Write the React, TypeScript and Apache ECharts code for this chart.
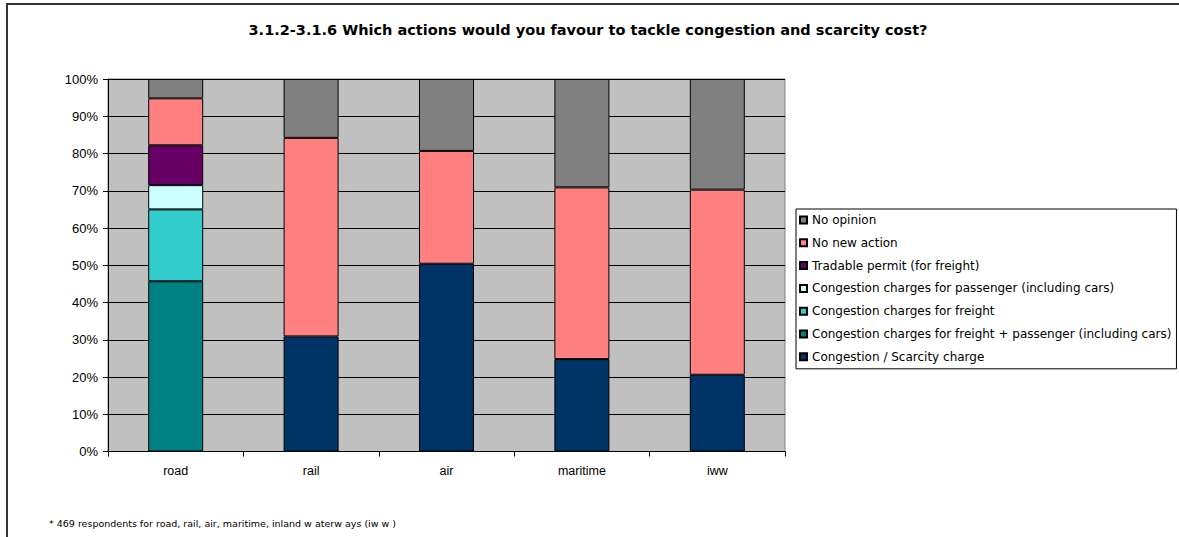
import React, { useEffect, useRef } from "react";
import * as echarts from "echarts";

const categories = ["road", "rail", "air", "maritime", "iww"];
const scarcityCharge = [null, 30.9, 50.4, 24.8, 20.6];
const freightPassenger = [45.7, null, null, null, null];
const freightOnly = [19.3, null, null, null, null];
const passengerOnly = [6.5, null, null, null, null];
const tradablePermit = [10.7, null, null, null, null];
const noNewAction = [12.6, 53.3, 30.3, 46.1, 49.7];
const noOpinion = [5.2, 15.8, 19.3, 29.1, 29.7];
const yTicks = [0, 10, 20, 30, 40, 50, 60, 70, 80, 90, 100];

const FONT = "DejaVu Sans, Liberation Sans, Arial, sans-serif";
const FONT_AX = "Liberation Sans, Arial, sans-serif";

const seriesDefs = [
  { name: "Congestion / Scarcity charge", data: scarcityCharge, color: "#003366" },
  { name: "Congestion charges for freight + passenger (including cars)", data: freightPassenger, color: "#008080" },
  { name: "Congestion charges for freight", data: freightOnly, color: "#33CCCC" },
  { name: "Congestion charges for passenger (including cars)", data: passengerOnly, color: "#CCFFFF" },
  { name: "Tradable permit (for freight)", data: tradablePermit, color: "#660066" },
  { name: "No new action", data: noNewAction, color: "#FF8080" },
  { name: "No opinion", data: noOpinion, color: "#808080" },
];

export default function App() {
  const ref = useRef<HTMLDivElement>(null);
  useEffect(() => {
    if (!ref.current) return;
    const chart = echarts.init(ref.current, null, { renderer: "svg" });
    chart.setOption({
      animation: false,
      backgroundColor: "#ffffff",
      textStyle: { fontFamily: FONT },
      grid: {
        left: 108,
        right: 394,
        top: 79,
        bottom: 85.5,
        show: true,
        backgroundColor: "#C0C0C0",
        borderColor: "#808080",
        borderWidth: 1,
      },
      xAxis: {
        type: "category",
        data: categories,
        axisLine: { show: true, lineStyle: { color: "#000", width: 1 } },
        axisTick: { show: true, alignWithLabel: false, length: 5, lineStyle: { color: "#000" } },
        axisLabel: { color: "#000", fontSize: 12.5, margin: 13, fontFamily: FONT_AX },
        splitLine: { show: false },
      },
      yAxis: {
        type: "value",
        min: yTicks[0],
        max: yTicks[yTicks.length - 1],
        interval: 10,
        axisLine: { show: true, lineStyle: { color: "#000", width: 1 } },
        axisTick: { show: true, length: 5, lineStyle: { color: "#000" } },
        axisLabel: { color: "#000", fontSize: 13, margin: 10, formatter: "{value}%", fontFamily: FONT_AX },
        splitLine: { show: true, lineStyle: { color: "#000", width: 1 } },
      },
      legend: {
        orient: "vertical",
        left: 796,
        top: 209,
        backgroundColor: "#fff",
        borderColor: "#000",
        borderWidth: 1,
        borderRadius: 0,
        padding: [5, 5, 6, 3],
        itemWidth: 7,
        itemHeight: 7,
        itemGap: 10.8,
        icon: "rect",
        textStyle: { color: "#000", fontSize: 12, fontFamily: FONT },
        data: seriesDefs.slice().reverse().map((s) => s.name),
      },
      series: seriesDefs.map((s) => ({
        name: s.name,
        type: "bar",
        stack: "total",
        barWidth: 55,
        data: s.data.map((v) => (v === null ? "-" : v)),
        itemStyle: { color: s.color, borderColor: "#000", borderWidth: 1 },
      })),
      graphic: [
        {
          type: "rect",
          shape: { x: 7, y: 4, width: 1200, height: 600 },
          style: { fill: "none", stroke: "#333", lineWidth: 2 },
          silent: true,
        },
        {
          type: "text",
          x: 588,
          y: 30,
          style: {
            text: "3.1.2-3.1.6 Which actions would you favour to tackle congestion and scarcity cost?",
            fill: "#000",
            font: "bold 14.5px " + FONT,
            textAlign: "center",
            textVerticalAlign: "middle",
          },
        },
        {
          type: "text",
          x: 49,
          y: 523,
          style: {
            text: "* 469 respondents for road, rail, air, maritime, inland w aterw ays (iw w )",
            fill: "#000",
            font: "9.5px " + FONT,
            textAlign: "left",
            textVerticalAlign: "middle",
          },
        },
      ],
    });
    return () => chart.dispose();
  }, []);
  return (
    <div
      ref={ref}
      style={{ position: "absolute", left: 0, top: 0, width: 1179, height: 537 }}
    />
  );
}
